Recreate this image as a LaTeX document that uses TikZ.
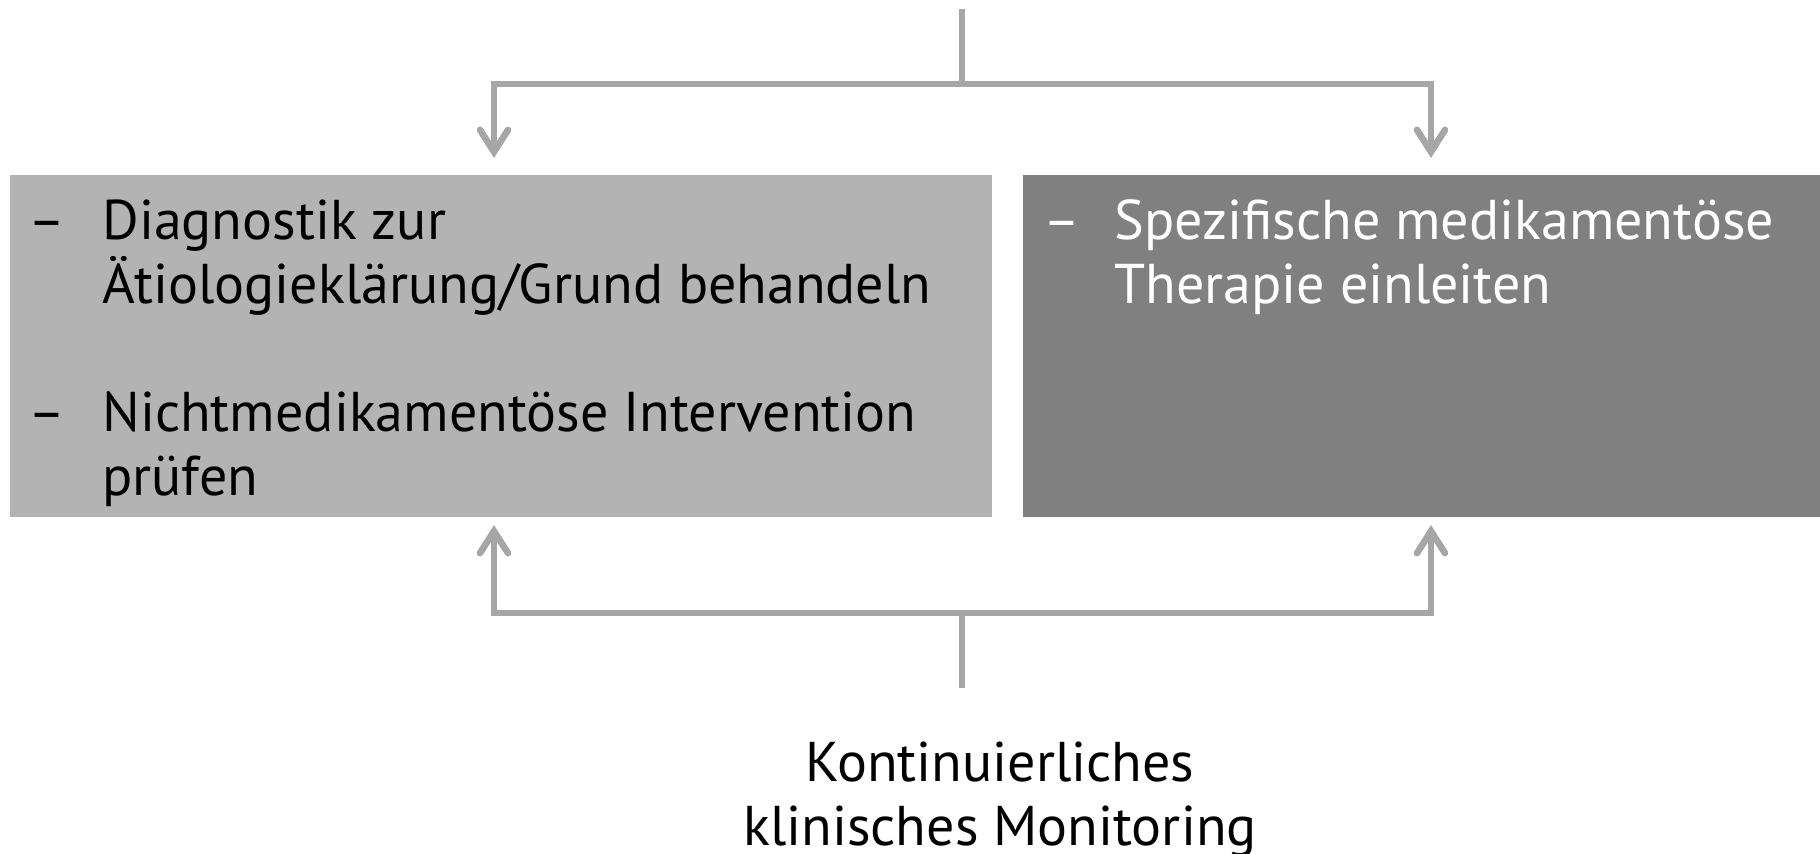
\documentclass[tikz,border=0pt]{standalone}
\usepackage{fontspec}
\setmainfont{PT Sans}
\usetikzlibrary{positioning, arrows.meta, calc}

\definecolor{linegray}{HTML}{A6A6A6}
\definecolor{lightbox}{HTML}{B3B3B3}
\definecolor{darkbox}{HTML}{808080}

\tikzset{
  link/.style={draw=linegray, line width=3.3pt},
  flow/.style={link, -{Straight Barb[length=11pt, width=14pt, line cap=round]}},
  panel/.style={anchor=north west, minimum height=171pt, inner sep=0pt},
  item/.style={anchor=base west, align=left, inner sep=0pt, font=\fontsize{28}{32}\selectfont},
}

\begin{document}
\begin{tikzpicture}[x=0.5pt, y=-0.5pt]
    \useasboundingbox (0,0) rectangle (1820,853);

    % Boxes
    \node[panel, fill=lightbox, minimum width=491pt] (diag) at (10,175) {};
    \node[panel, fill=darkbox, minimum width=398.5pt] (medi) at (1023,175) {};

    % Box texts (base = last line)
    \node[item] (dashA) at (28,239) {–};
    \node[item] (diagtext) at (102,303) {Diagnostik zur\\Ätiologieklärung/Grund behandeln};
    \node[item] (dashB) at (28,431) {–};
    \node[item] (nichttext) at (102,495) {Nichtmedikamentöse Intervention\\prüfen};
    \node[item, text=white] (dashC) at (1043,239) {–};
    \node[item, text=white] (meditext) at (1114,303) {Spezifische medikamentöse\\Therapie einleiten};

    % Monitoring label
    \node[item, anchor=base, align=center] (monitor) at (1000,845) {Kontinuierliches\\klinisches Monitoring};

    % Top split
    \coordinate (topin) at (962,9);
    \coordinate (split) at (962,84);
    \coordinate (diagin) at (494,158);
    \coordinate (mediin) at (1431,158);
    \draw[link] (topin) -- (split);
    \draw[flow] (split) -| (diagin);
    \draw[flow] (split) -| (mediin);

    % Bottom feedback
    \coordinate (monout) at (962,688);
    \coordinate (merge) at (962,613);
    \coordinate (diagback) at (494,525);
    \coordinate (mediback) at (1431,525);
    \draw[link] (monout) -- (merge);
    \draw[flow] (merge) -| (diagback);
    \draw[flow] (merge) -| (mediback);
\end{tikzpicture}
\end{document}
